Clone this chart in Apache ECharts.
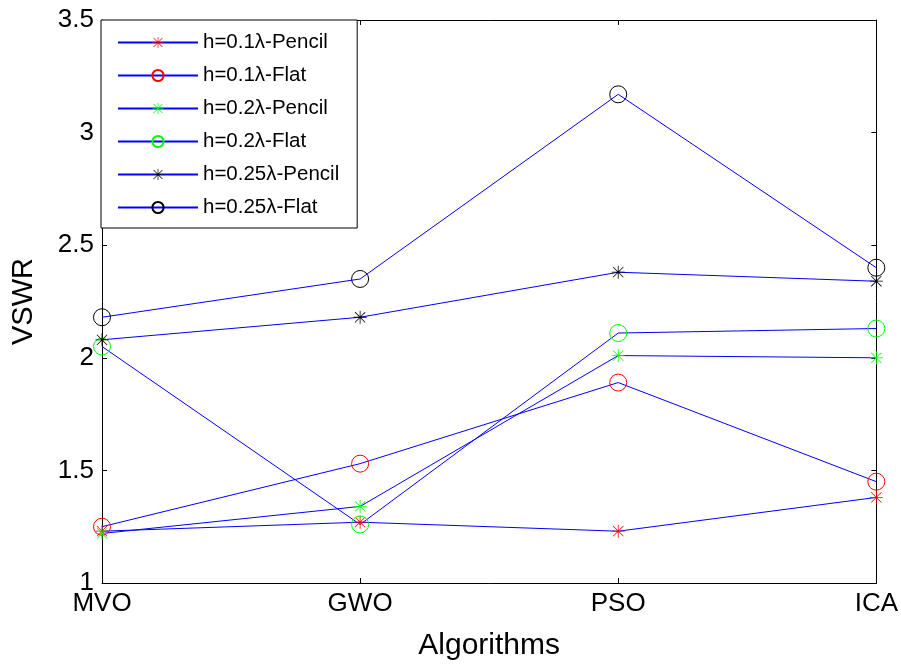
<!DOCTYPE html>
<html>
<head>
<meta charset="utf-8">
<script src="https://cdn.jsdelivr.net/npm/echarts@6/dist/echarts.min.js"></script>
<style>
  html, body { margin: 0; padding: 0; background: #fff; }
  #chartBox { width: 901px; height: 666px; }
</style>
</head>
<body>
<div id="chartBox"></div>
<script>
// 横轴算法
var algorithms = ["MVO", "GWO", "PSO", "ICA"];
var yTicks = [1, 1.5, 2, 2.5, 3, 3.5];

// 各组数据
var pencil01 = [1.23, 1.27, 1.23, 1.38];
var flat01 = [1.25, 1.53, 1.89, 1.45];
var pencil02 = [1.22, 1.34, 2.01, 2.0];
var flat02 = [2.05, 1.26, 2.11, 2.13];
var pencil025 = [2.08, 2.18, 2.38, 2.34];
var flat025 = [2.18, 2.35, 3.17, 2.4];

var seriesNames = [
  "h=0.1λ-Pencil",
  "h=0.1λ-Flat",
  "h=0.2λ-Pencil",
  "h=0.2λ-Flat",
  "h=0.25λ-Pencil",
  "h=0.25λ-Flat",
];
var seriesData = [pencil01, flat01, pencil02, flat02, pencil025, flat025];
var markerColors = ["#ff0000", "#ff0000", "#00ff00", "#00ff00", "#000000", "#000000"];

// 星号标记
var asterisk =
  "path://M9.4 0h1.2v20h-1.2Z M0 9.4h20v1.2h-20Z" +
  "M2.5 1.7L18.3 17.5L17.5 18.3L1.7 2.5Z M17.5 1.7L18.3 2.5L2.5 18.3L1.7 17.5Z";

var font = "Liberation Sans, Arial, sans-serif";

var series = seriesNames.map(function (name, i) {
  var isStar = i % 2 == 0;
  return {
    name: name,
    type: "line",
    data: seriesData[i],
    symbol: isStar ? asterisk : "circle",
    symbolSize: isStar ? 13 : 17,
    showAllSymbol: true,
    lineStyle: { color: "#0000ff", width: 1 },
    itemStyle: isStar
      ? { color: markerColors[i] }
      : { color: "transparent", borderColor: markerColors[i], borderWidth: 1 },
    emphasis: { disabled: true },
    animation: false,
  };
});

var axisLine = { show: true, lineStyle: { color: "#000", width: 1 } };
var tick = { show: true, inside: true, length: 5, lineStyle: { color: "#000" } };

var option = {
  backgroundColor: "#fff",
  textStyle: { fontFamily: font },
  grid: { left: 102, right: 24, top: 20, bottom: 81 },
  legend: {
    orient: "vertical",
    left: 101,
    top: 20,
    backgroundColor: "#fff",
    borderColor: "#000",
    borderWidth: 1,
    borderRadius: 0,
    padding: [12, 18, 10, 16],
    itemWidth: 80,
    itemHeight: 14,
    itemGap: 12,
    textStyle: { fontSize: 20.5, color: "#000", lineHeight: 21, fontFamily: font },
    data: seriesNames,
  },
  xAxis: [
    {
      type: "category",
      data: algorithms,
      boundaryGap: false,
      axisLine: axisLine,
      axisTick: tick,
      axisLabel: { fontSize: 26, color: "#000", margin: 8, fontFamily: font },
      splitLine: { show: false },
      name: "Algorithms",
      nameLocation: "middle",
      nameGap: 48,
      nameTextStyle: { fontSize: 30, color: "#000", fontFamily: font },
    },
    {
      type: "category",
      data: algorithms,
      boundaryGap: false,
      position: "top",
      axisLine: axisLine,
      axisTick: tick,
      axisLabel: { show: false },
      splitLine: { show: false },
    },
  ],
  yAxis: [
    {
      type: "value",
      min: yTicks[0],
      max: yTicks[yTicks.length - 1],
      interval: 0.5,
      axisLine: axisLine,
      axisTick: tick,
      axisLabel: { fontSize: 26, color: "#000", margin: 8, fontFamily: font },
      splitLine: { show: false },
      name: "VSWR",
      nameLocation: "middle",
      nameRotate: 90,
      nameGap: 64,
      nameTextStyle: { fontSize: 29, color: "#000", fontFamily: font },
    },
    {
      type: "value",
      position: "right",
      min: yTicks[0],
      max: yTicks[yTicks.length - 1],
      interval: 0.5,
      axisLine: axisLine,
      axisTick: tick,
      axisLabel: { show: false },
      splitLine: { show: false },
    },
  ],
  series: series,
};

var myChart = echarts.init(document.getElementById("chartBox"));
myChart.setOption(option);
</script>
</body>
</html>
